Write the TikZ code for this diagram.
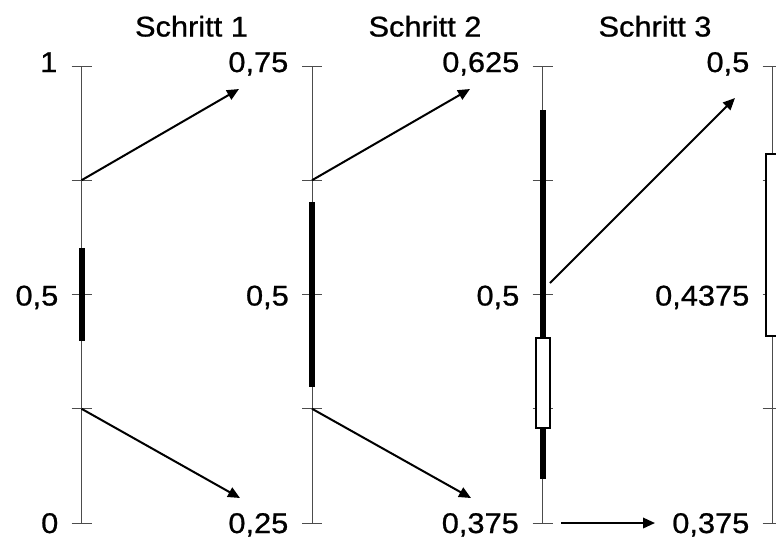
\documentclass[tikz,border=0pt]{standalone}
\usepackage{fontspec}
\setmainfont{Liberation Sans}[FakeStretch=1.08,FakeBold=0.8]
\usetikzlibrary{arrows.meta}
\begin{document}
\begin{tikzpicture}[x=1pt,y=-1pt,
  axisline/.style={draw=black!70,line width=1pt},
  tickmark/.style={draw=black!70,line width=1pt},
  bar/.style={fill=black},
  hollow/.style={draw=black,line width=2pt,fill=white},
  conn/.style={draw=black,line width=2pt,-{Triangle[length=12pt,width=10.5pt]}},
  lbl/.style={anchor=base east,inner sep=0pt,font=\fontsize{28.5}{34}\selectfont},
  ttl/.style={anchor=base,inner sep=0pt,font=\fontsize{28.5}{34}\selectfont}]
\useasboundingbox (0,0) rectangle (776,542);
\clip (0,0) rectangle (776,542);
% axes and ticks
\foreach \ax in {81.5,312,542.5,772.5}{
  \draw[axisline] (\ax,66) -- (\ax,523);
  \foreach \ty in {66,180.25,294.5,408.75,523}
    \draw[tickmark] (\ax-10,\ty) -- (\ax+10,\ty);
}
% bars
\fill[bar] (78.5,248) rectangle (84.5,341);
\fill[bar] (309,202) rectangle (315,387);
\fill[bar] (539.5,110) rectangle (545.5,479);
\draw[hollow] (536,338) rectangle (550,428);
\draw[hollow] (766,154) rectangle (800,336);
% titles
\node[ttl] (t1) at (191.5,36.5) {Schritt 1};
\node[ttl] (t2) at (425,36.5) {Schritt 2};
\node[ttl] (t3) at (655,36.5) {Schritt 3};
% labels
\node[lbl] (l11) at (57.5,72) {1};
\node[lbl] (l12) at (58.5,305.5) {0,5};
\node[lbl] (l13) at (58.5,533) {0};
\node[lbl] (l21) at (288.5,72) {0,75};
\node[lbl] (l22) at (289,305.5) {0,5};
\node[lbl] (l23) at (288.5,533) {0,25};
\node[lbl] (l31) at (519.5,72) {0,625};
\node[lbl] (l32) at (519.5,305.5) {0,5};
\node[lbl] (l33) at (519,533) {0,375};
\node[lbl] (l41) at (749.5,72) {0,5};
\node[lbl] (l42) at (749.5,305.5) {0,4375};
\node[lbl] (l43) at (749.5,533) {0,375};
% connector endpoints
\coordinate (s1u) at (81.5,180.25);
\coordinate (e1u) at (239,89);
\coordinate (s1d) at (81.5,408.75);
\coordinate (e1d) at (240,498);
\coordinate (s2u) at (312,180.25);
\coordinate (e2u) at (470,89);
\coordinate (s2d) at (312,408.75);
\coordinate (e2d) at (471,498);
\coordinate (s3u) at (550,283);
\coordinate (e3u) at (735,98);
\coordinate (s3d) at (561,523);
\coordinate (e3d) at (655,523);
% connectors
\draw[conn] (s1u) -- (e1u);
\draw[conn] (s1d) -- (e1d);
\draw[conn] (s2u) -- (e2u);
\draw[conn] (s2d) -- (e2d);
\draw[conn] (s3u) -- (e3u);
\draw[conn] (s3d) -- (e3d);
\end{tikzpicture}
\end{document}
